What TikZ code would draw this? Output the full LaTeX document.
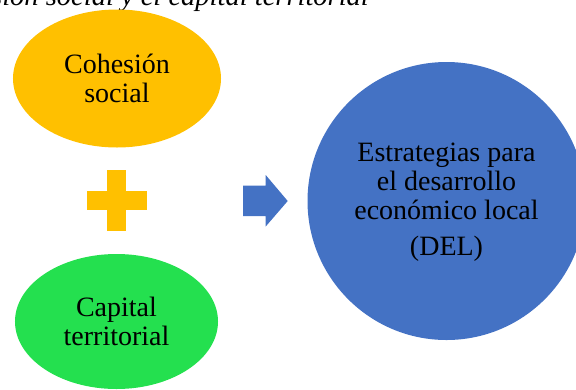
\documentclass[tikz,border=0pt]{standalone}
\usepackage{fontspec}
\setmainfont{Liberation Serif}
\usetikzlibrary{shapes.geometric}
\definecolor{cyellow}{HTML}{FFC000}
\definecolor{cgreen}{HTML}{24E04F}
\definecolor{cblue}{HTML}{4472C4}
\tikzset{
  blob/.style={ellipse, inner sep=0pt, align=center, text=black,
    font=\fontsize{28bp}{28.5bp}\selectfont},
  bigcircle/.style={circle, inner sep=0pt},
  circtext/.style={inner sep=0pt, align=center, anchor=base,
    font=\fontsize{28bp}{29bp}\selectfont},
}
\begin{document}
\begin{tikzpicture}[x=1bp,y=-1bp]
\useasboundingbox (0,0) rectangle (576,389);
\clip (0,0) rectangle (576,389);
% caption (cut off at top)
\node[anchor=base east, inner sep=0pt, font=\itshape\fontsize{28.5bp}{28.5bp}\selectfont] (cap) at (369,5.8) {cohesión social y el capital territorial};
% yellow ellipse
\node[blob, fill=cyellow, minimum width=208bp, minimum height=138bp] (coh) at (117,78.5) {Cohesión\\social};
% green ellipse
\node[blob, fill=cgreen, minimum width=203bp, minimum height=135bp] (capt) at (116.5,321.5) {Capital\\territorial};
% plus sign
\fill[cyellow] (107.3,170) rectangle (126,231);
\fill[cyellow] (86.7,191) rectangle (146.7,210);
% block arrow
\fill[cblue] (243,185.7) -- (265.7,185.7) -- (265.7,175) -- (287.7,201) -- (265.7,226.5) -- (265.7,216) -- (243,216) -- cycle;
% blue circle
\node[bigcircle, fill=cblue, minimum size=278bp] (del) at (446.5,201) {};
\node[circtext] (dtxt) at (446.5,219) {Estrategias para\\el desarrollo\\económico local};
\node[circtext] (dabbr) at (446.5,255) {(DEL)};
\end{tikzpicture}
\end{document}
